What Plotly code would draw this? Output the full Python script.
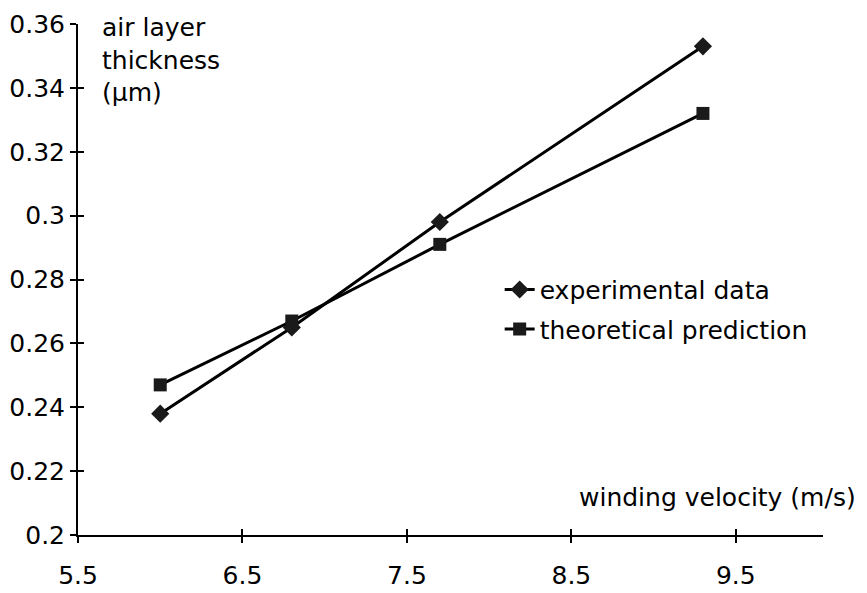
import plotly.graph_objects as go

# ---- data ----
velocity = [6.0, 6.8, 7.7, 9.3]
experimental = [0.238, 0.265, 0.298, 0.353]
theoretical = [0.247, 0.267, 0.291, 0.332]

x_tickvals = [5.5, 6.5, 7.5, 8.5, 9.5]
x_ticktext = ["5.5", "6.5", "7.5", "8.5", "9.5"]
y_tickvals = [0.2, 0.22, 0.24, 0.26, 0.28, 0.3, 0.32, 0.34, 0.36]
y_ticktext = ["0.2", "0.22", "0.24", "0.26", "0.28", "0.3", "0.32", "0.34", "0.36"]

FONT = "DejaVu Sans"
FS = 25

fig = go.Figure()
fig.add_trace(go.Scatter(
    x=velocity, y=experimental, name="experimental data",
    mode="lines+markers", legendgroup="a",
    line=dict(color="black", width=3),
    marker=dict(symbol="diamond", size=14, color="#1a1a1a"),
))
fig.add_trace(go.Scatter(
    x=velocity, y=theoretical, name="theoretical prediction",
    mode="lines+markers", legendgroup="b",
    line=dict(color="black", width=3),
    marker=dict(symbol="square", size=13, color="#1a1a1a"),
))

axis_common = dict(
    showline=True, linecolor="black", linewidth=2,
    showgrid=False, zeroline=False, automargin=False,
    ticks="outside", ticklen=6, tickwidth=2, tickcolor="black",
    tickfont=dict(family=FONT, size=FS, color="black"),
)

fig.update_layout(
    width=867, height=593,
    margin=dict(l=78, r=44, t=24, b=58),
    paper_bgcolor="white", plot_bgcolor="white",
    font=dict(family=FONT, size=FS, color="black"),
    xaxis=dict(range=[5.5, 10.03], tickvals=x_tickvals, ticktext=x_ticktext,
               ticklabelstandoff=11, **axis_common),
    yaxis=dict(range=[0.2, 0.36], tickvals=y_tickvals, ticktext=y_ticktext,
               ticklabelstandoff=0, **axis_common),
    # overlay axes give ticks that cross the axis lines
    xaxis2=dict(range=[5.5, 10.03], tickvals=x_tickvals, showticklabels=False,
                overlaying="x", side="bottom", anchor="y", automargin=False,
                ticks="inside", ticklen=6, tickwidth=2, tickcolor="black",
                showgrid=False, zeroline=False, showline=False),
    yaxis2=dict(range=[0.2, 0.36], tickvals=y_tickvals, showticklabels=False,
                overlaying="y", side="left", anchor="x", automargin=False,
                ticks="inside", ticklen=6, tickwidth=2, tickcolor="black",
                showgrid=False, zeroline=False, showline=False),
    showlegend=True,
    legend=dict(x=0.566, y=0.525, xanchor="left", yanchor="top",
                bgcolor="rgba(0,0,0,0)", font=dict(family=FONT, size=FS),
                traceorder="grouped", tracegroupgap=4),
    annotations=[
        dict(text="air layer<br>thickness<br>(µm)", xref="paper", yref="paper",
             x=0.0295, y=1.025, xanchor="left", yanchor="top", align="left",
             showarrow=False, font=dict(family=FONT, size=FS)),
        dict(text="winding velocity (m/s)", xref="paper", yref="paper",
             x=1.047, y=0.074, xanchor="right", yanchor="middle",
             showarrow=False, font=dict(family=FONT, size=FS)),
    ],
)
# invisible trace to activate overlay axes
fig.add_trace(go.Scatter(x=[velocity[0]], y=[experimental[0]], xaxis="x2", yaxis="y2",
                         mode="markers", marker=dict(opacity=0), showlegend=False,
                         hoverinfo="skip"))

fig.write_html("out.html")
